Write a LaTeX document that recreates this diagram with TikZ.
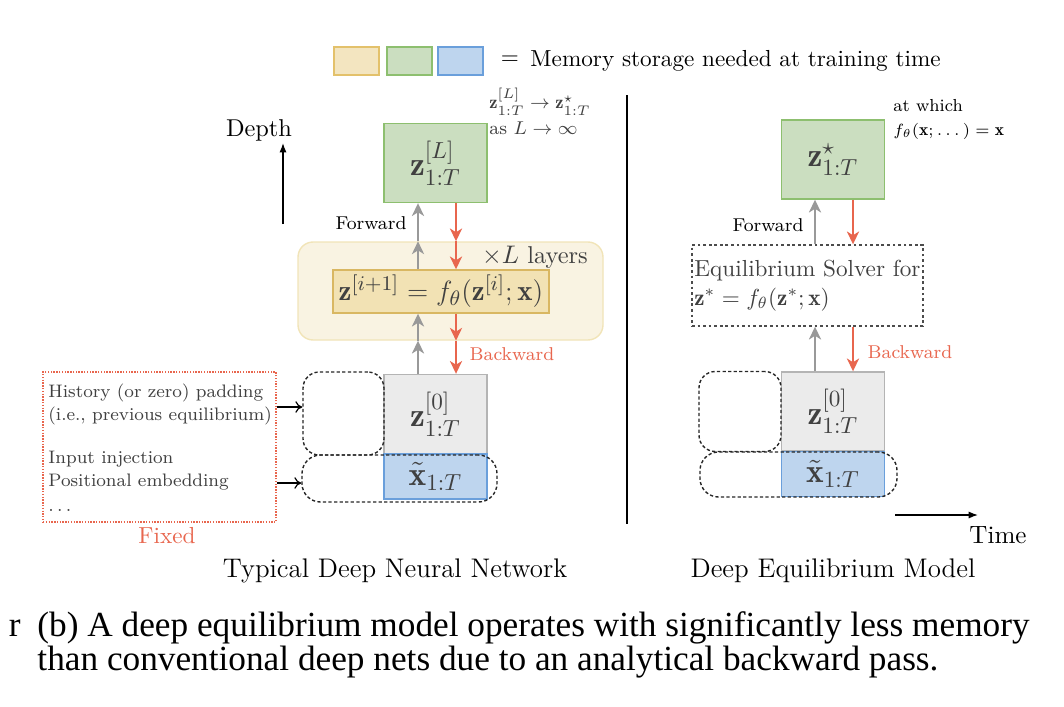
\documentclass[tikz,border=0pt]{standalone}
\usepackage{fontspec}
\newfontfamily\capfont{Liberation Serif}
\usepackage{amsmath}
\usetikzlibrary{arrows.meta}
\definecolor{yfill}{HTML}{F3E5C0}
\definecolor{ydraw}{HTML}{E3C16B}
\definecolor{gfill}{HTML}{CBDEC0}
\definecolor{gdraw}{HTML}{8DBF6F}
\definecolor{bfill}{HTML}{BED5EE}
\definecolor{bdraw}{HTML}{6A9FDB}
\definecolor{zfill}{HTML}{EBEBEB}
\definecolor{zdraw}{HTML}{B4B4B4}
\definecolor{lbgfill}{HTML}{F9F3E2}
\definecolor{lbgdraw}{HTML}{F1E4B8}
\definecolor{innfill}{HTML}{F2E2B4}
\definecolor{inndraw}{HTML}{D9B762}
\definecolor{fgray}{HTML}{999999}
\definecolor{bred}{HTML}{E8664E}
\definecolor{txtgray}{HTML}{404040}
\newcommand\pxw[1]{#1*0.431pt}
\begin{document}
\begin{tikzpicture}[x=0.431pt,y=-0.431pt,
  box/.style={draw, inner sep=0pt, line width=0.6pt, text=txtgray},
  bigbox/.style={box, minimum width=\pxw{103}, minimum height=\pxw{79}, font=\Large},
  gbox/.style={bigbox, fill=gfill, draw=gdraw},
  zbox/.style={bigbox, fill=zfill, draw=zdraw},
  xbox/.style={box, fill=bfill, draw=bdraw, minimum width=\pxw{103}, minimum height=\pxw{45}, font=\Large},
  legbox/.style={draw, line width=0.6pt, minimum width=\pxw{45}, minimum height=\pxw{28}, inner sep=0pt},
  dashround/.style={draw=black!85, line width=0.6pt, dash pattern=on 1.4pt off 1pt, rounded corners=7pt, inner sep=0pt},
  fwd/.style={draw=fgray, line width=1.1pt, -{Stealth[length=5.5pt,width=5.2pt,inset=1.6pt]}},
  bwd/.style={draw=bred, line width=1.1pt, -{Stealth[length=5.5pt,width=5.2pt,inset=1.6pt]}},
  sidearr/.style={draw=black, line width=0.5pt, -{To[length=3pt,width=5pt]}},
  axisarr/.style={draw=black, line width=0.5pt, -{Latex[length=4pt,width=3pt]}},
  lbl/.style={inner sep=0pt},
]
\useasboundingbox (0,0) rectangle (1064,706);

% legend
\node[legbox, fill=yfill, draw=ydraw] (leg1) at (356.5,61) {};
\node[legbox, fill=gfill, draw=gdraw] (leg2) at (409.5,61) {};
\node[legbox, fill=bfill, draw=bdraw] (leg3) at (460.5,61) {};
\node[lbl] (legeq) at (510,60) {$=$};
\node[lbl, anchor=base west] (legtxt) at (530,66) {Memory storage needed at training time};

% ---------- left diagram ----------
\node[lbl, font=\fontsize{10.5}{12}\selectfont] (depth) at (259,130) {Depth};
\coordinate (d0) at (283,224);
\coordinate (d1) at (283,143);
\draw[axisarr] (d0) -- (d1);

\node[gbox] (gL) at (435.5,163) {$\mathbf{z}^{[L]}_{1:T}$};
\node[lbl, anchor=north west, align=left, font=\footnotesize, text=txtgray] (annL) at (489,88)
  {$\mathbf{z}^{[L]}_{1:T}\rightarrow\mathbf{z}^{\star}_{1:T}$\\[1.5pt] as $L\rightarrow\infty$};

\node[draw=lbgdraw, fill=lbgfill, line width=0.6pt, rounded corners=6.5pt,
      minimum width=\pxw{305}, minimum height=\pxw{98}, inner sep=0pt] (layerbg) at (450.5,291) {};
\node[lbl, text=txtgray, font=\fontsize{10.5}{12}\selectfont] (xL) at (535,257) {$\times L$ layers};
\node[box, fill=innfill, draw=inndraw, minimum width=\pxw{216}, minimum height=\pxw{43}, font=\fontsize{12.5}{14}\selectfont]
  (inner) at (441,291.5) {$\mathbf{z}^{[i+1]}=f_\theta(\mathbf{z}^{[i]};\mathbf{x})$};

\node[zbox] (z0L) at (435.5,414) {$\mathbf{z}^{[0]}_{1:T}$};
\node[xbox] (xtL) at (435.5,476.5) {$\tilde{\mathbf{x}}_{1:T}$};
\node[dashround, minimum width=\pxw{81}, minimum height=\pxw{83}] (padL) at (343.5,413.5) {};
\node[dashround, rounded corners=8pt, minimum width=\pxw{195}, minimum height=\pxw{47}] (embL) at (399.5,478.5) {};

\coordinate (gxL) at (418,0);
\coordinate (rxL) at (456,0);
\draw[fwd] (layerbg.north -| gxL) -- (gL.south -| gxL);
\draw[fwd] (inner.north -| gxL) -- (layerbg.north -| gxL);
\draw[fwd] (layerbg.south -| gxL) -- (inner.south -| gxL);
\draw[fwd] (z0L.north -| gxL) -- (layerbg.south -| gxL);
\draw[bwd] (gL.south -| rxL) -- (layerbg.north -| rxL);
\draw[bwd] (layerbg.north -| rxL) -- (inner.north -| rxL);
\draw[bwd] (inner.south -| rxL) -- (layerbg.south -| rxL);
\draw[bwd] (layerbg.south -| rxL) -- (z0L.north -| rxL);
\node[lbl, font=\footnotesize] (fwdL) at (371,223) {Forward};
\node[lbl, font=\footnotesize, text=bred] (bwdL) at (512,354) {Backward};

\node[draw=bred, line width=0.5pt, dash pattern=on 0.6pt off 0.6pt, inner sep=0pt,
      minimum width=\pxw{233}, minimum height=\pxw{150}] (fixed) at (159.5,447) {};
\begin{scope}[every node/.style={lbl, anchor=base west, font=\fontsize{7.8}{9.5}\selectfont, text=txtgray}]
\node (t1) at (48,397) {History (or zero) padding};
\node (t2) at (48,420) {(i.e., previous equilibrium)};
\node (t3) at (48,463) {Input injection};
\node (t4) at (48,486) {Positional embedding};
\node (t5) at (48,511) {$\ldots$};
\end{scope}
\node[lbl, text=bred] (fixedlbl) at (167,536) {Fixed};
\coordinate (h1) at (0,407);
\coordinate (h2) at (0,483);
\draw[sidearr] (fixed.east |- h1) -- (padL.west |- h1);
\draw[sidearr] (fixed.east |- h2) -- (embL.west |- h2);

\node[lbl, font=\fontsize{11.6}{14}\selectfont] (capL) at (395,571) {Typical Deep Neural Network};

% divider
\coordinate (v0) at (627,95);
\coordinate (v1) at (627,524);
\draw[line width=1.1pt] (v0) -- (v1);

% ---------- right diagram ----------
\node[gbox] (gR) at (833,159.5) {$\mathbf{z}^{\star}_{1:T}$};
\node[lbl, anchor=base west, font=\fontsize{7.5}{9}\selectfont] (aw1) at (893,111) {at which};
\node[lbl, anchor=base west, font=\fontsize{7.5}{9}\selectfont] (aw2) at (893,135) {$f_\theta(\mathbf{x};\dots)=\mathbf{x}$};

\node[draw=black!70, line width=0.6pt, dash pattern=on 1.2pt off 1.2pt, inner sep=0.8pt,
      minimum width=\pxw{231}, minimum height=\pxw{81}, align=left, text=txtgray,
      font=\fontsize{10}{12.5}\selectfont] (solver) at (807.5,285.5)
  {Equilibrium Solver for\\ $\mathbf{z}^{*}=f_\theta(\mathbf{z}^{*};\mathbf{x})$};

\node[zbox] (z0R) at (833,411.5) {$\mathbf{z}^{[0]}_{1:T}$};
\node[xbox] (xtR) at (833,474) {$\tilde{\mathbf{x}}_{1:T}$};
\node[dashround, minimum width=\pxw{82}, minimum height=\pxw{80}] (padR) at (740,411.5) {};
\node[dashround, rounded corners=8pt, minimum width=\pxw{197}, minimum height=\pxw{45}] (embR) at (798.5,474.5) {};

\coordinate (gxR) at (815,0);
\coordinate (rxR) at (853,0);
\draw[fwd] (solver.north -| gxR) -- (gR.south -| gxR);
\draw[fwd] (z0R.north -| gxR) -- (solver.south -| gxR);
\draw[bwd] (gR.south -| rxR) -- (solver.north -| rxR);
\draw[bwd] (solver.south -| rxR) -- (z0R.north -| rxR);
\node[lbl, font=\footnotesize] (fwdR) at (768,225) {Forward};
\node[lbl, font=\footnotesize, text=bred] (bwdR) at (910,352) {Backward};

\coordinate (t0) at (895,515);
\coordinate (tt) at (978,515);
\draw[axisarr] (t0) -- (tt);
\node[lbl, font=\fontsize{10.8}{12}\selectfont] (time) at (998,535) {Time};
\node[lbl, font=\fontsize{11.6}{14}\selectfont] (capR) at (833,571) {Deep Equilibrium Model};

% caption
\begin{scope}[every node/.style={lbl, anchor=base west, font=\capfont\fontsize{15.2}{18}\selectfont}]
\node (c1) at (37,636) {(b) A deep equilibrium model operates with significantly less memory};
\node (c2) at (37,670) {than conventional deep nets due to an analytical backward pass.};
\node[anchor=base east] (cr) at (21,636) {r};
\end{scope}
\end{tikzpicture}
\end{document}
